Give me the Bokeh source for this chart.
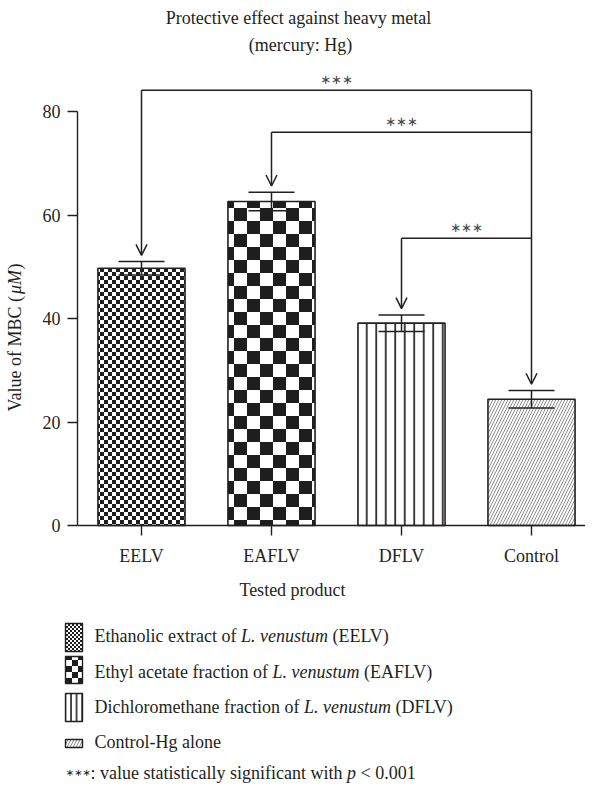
import zlib, struct, base64, math
from bokeh.plotting import figure
from bokeh.models import (Range1d, FixedTicker, Label, Arrow, OpenHead,
                          ImageURLTexture, ColumnDataSource)
from bokeh.embed import file_html
from bokeh.resources import INLINE
from bokeh.core.properties import value

# ---------------- data ----------------
categories = ["EELV", "EAFLV", "DFLV", "Control"]
mbc_mean = [49.7, 62.6, 39.1, 24.4]
mbc_err = [1.3, 1.8, 1.6, 1.7]
y_ticks = [0, 20, 40, 60, 80]
compared = ["EELV", "EAFLV", "DFLV"]
reference_group = "Control"
signif_label = "\u2217\u2217\u2217"
bracket_levels = [84.1, 76.0, 55.5]

title_lines = ["Protective effect against heavy metal", "(mercury: Hg)"]
x_title = "Tested product"
y_title = [("Value of MBC (", False), ("\u03bcM", True), (")", False)]
legend_rows = [
    [("Ethanolic extract of ", False), ("L. venustum", True), (" (EELV)", False)],
    [("Ethyl acetate fraction of ", False), ("L. venustum", True), (" (EAFLV)", False)],
    [("Dichloromethane fraction of ", False), ("L. venustum", True), (" (DFLV)", False)],
    [("Control-Hg alone", False)],
]
note_row = [(": value statistically significant with ", False), ("p", True), (" < 0.001", False)]

SERIF = "Liberation Serif"
INK = "#231f20"

# Times metrics (Liberation Serif is metric compatible)
REG = {" ": 250, "(": 333, ")": 333, "-": 333, ".": 250, ":": 278, "<": 564, "0": 500, "1": 500,
       "A": 722, "B": 667, "C": 667, "D": 722, "E": 611, "F": 556, "H": 722, "L": 611, "M": 889,
       "V": 722, "a": 444, "b": 500, "c": 444, "d": 500, "e": 444, "f": 333, "g": 500, "h": 500,
       "i": 278, "l": 278, "m": 778, "n": 500, "o": 500, "r": 333, "s": 389, "t": 278, "u": 500,
       "v": 500, "w": 722, "x": 500, "y": 500}
ITA = {" ": 250, "L": 556, ".": 250, "v": 444, "e": 444, "n": 500, "u": 500, "s": 389, "t": 278,
       "m": 722, "p": 500, "M": 833, "\u03bc": 520}


def tw(s, ital=False, size=18):
    tab = ITA if ital else REG
    return sum(tab.get(c, 500) for c in s) * size / 1000.0


# ---------------- textures ----------------
def png_url(w, h, fn):
    raw = b""
    for yy in range(h):
        row = bytearray([0])
        for xx in range(w):
            row += bytes(fn(xx, yy))
        raw += bytes(row)

    def chunk(t, d):
        return struct.pack(">I", len(d)) + t + d + struct.pack(">I", zlib.crc32(t + d) & 0xffffffff)

    png = (b"\x89PNG\r\n\x1a\n" + chunk(b"IHDR", struct.pack(">IIBBBBB", w, h, 8, 2, 0, 0, 0))
           + chunk(b"IDAT", zlib.compress(raw)) + chunk(b"IEND", b""))
    return "data:image/png;base64," + base64.b64encode(png).decode()


def checker(cell):
    dark = (0x1e, 0x1e, 0x1e)
    light = (255, 255, 255)
    url = png_url(2 * cell, 2 * cell,
                  lambda x, y: dark if ((x // cell) + (y // cell)) % 2 == 0 else light)
    return ImageURLTexture(url=url, repetition="repeat")


# ---------------- page geometry (layout only) ----------------
PXX = 130.0          # pixels per category
PXY = 414.0 / 80.0   # pixels per MBC unit
X0, Y0 = 149.0, 533.0  # page pixel of x=0 (first category) and y=0
W, H = 585, 785


def X(px):
    return (px - X0) / PXX


def Y(py):
    return (Y0 - py) / PXY


p = figure(width=W, height=H, x_range=Range1d(X(8), X(8 + W)), y_range=Range1d(Y(8 + H), Y(8)),
           output_backend="svg", toolbar_location=None, min_border=0)
p.xgrid.visible = False
p.ygrid.visible = False
p.outline_line_color = None

xs = list(range(len(categories)))

for ax in (p.xaxis[0], p.yaxis[0]):
    ax.axis_line_color = INK
    ax.axis_line_width = 1.4
    ax.major_tick_line_color = INK
    ax.major_tick_line_width = 1.4
    ax.major_tick_out = 10
    ax.major_tick_in = 0
    ax.minor_tick_out = 0
    ax.minor_tick_in = 0
    ax.major_label_text_font = SERIF
    ax.major_label_text_font_size = "18px"
    ax.major_label_text_color = INK

y_axis_x = X(85)
p.yaxis.fixed_location = y_axis_x
p.yaxis.bounds = (0, 80)
p.yaxis.ticker = FixedTicker(ticks=y_ticks)
p.yaxis.major_label_standoff = 7
p.xaxis.fixed_location = 0
p.xaxis.bounds = (y_axis_x, X(8 + W))
p.xaxis.ticker = FixedTicker(ticks=xs)
p.xaxis.major_label_overrides = {x: c for x, c in zip(xs, categories)}
p.xaxis.major_label_standoff = 10

tex_fine = checker(4)
tex_coarse = checker(13)
bar_src = ColumnDataSource(dict(
    x=xs, top=mbc_mean,
    pat=["fine", "coarse", "|", "/"],
    hscale=[8, 26, 9.5, 6],
    hcolor=[INK, INK, INK, "#707070"],
    hweight=[1, 1, 1.7, 0.8],
))
p.vbar(x="x", top="top", width=0.67, source=bar_src, fill_color="white",
       line_color=INK, line_width=1.6,
       hatch_pattern="pat", hatch_extra={"fine": tex_fine, "coarse": tex_coarse},
       hatch_scale="hscale", hatch_color="hcolor", hatch_weight="hweight")

# error bars
lo = [m - e for m, e in zip(mbc_mean, mbc_err)]
hi = [m + e for m, e in zip(mbc_mean, mbc_err)]
cap = 0.177
p.segment(x0=xs, y0=lo, x1=xs, y1=hi, line_color=INK, line_width=1.5)
p.segment(x0=[x - cap for x in xs], y0=hi, x1=[x + cap for x in xs], y1=hi, line_color=INK, line_width=1.5)
p.segment(x0=[x - cap for x in xs], y0=lo, x1=[x + cap for x in xs], y1=lo, line_color=INK, line_width=1.5)

# significance brackets
ci = categories.index(reference_group)
cx = xs[ci]
gap = 1.2
for name, level in zip(compared, bracket_levels):
    i = categories.index(name)
    tip = mbc_mean[i] + mbc_err[i] + gap
    p.segment(x0=[xs[i]], y0=[level], x1=[cx], y1=[level], line_color=INK, line_width=1.5)
    p.add_layout(Arrow(end=OpenHead(size=11, line_color=INK, line_width=1.5),
                       x_start=xs[i], y_start=level, x_end=xs[i], y_end=tip,
                       line_color=INK, line_width=1.5))
    p.add_layout(Label(x=(xs[i] + cx) / 2, y=level + 11 / PXY, text=signif_label,
                       text_font="DejaVu Sans", text_font_size="13px", text_color="#444444",
                       text_align="center", text_baseline="middle"))
p.add_layout(Arrow(end=OpenHead(size=11, line_color=INK, line_width=1.5),
                   x_start=cx, y_start=max(bracket_levels), x_end=cx,
                   y_end=mbc_mean[ci] + mbc_err[ci] + gap,
                   line_color=INK, line_width=1.5))

# titles
for line, (tx, ty) in zip(title_lines, [(306, 25), (308, 52)]):
    p.add_layout(Label(x=X(tx), y=Y(ty), text=line, text_font=SERIF,
                       text_font_size="18px", text_color=INK,
                       text_align="center", text_baseline="middle"))
p.add_layout(Label(x=X(300), y=Y(597), text=x_title, text_font=SERIF,
                   text_font_size="18px", text_color=INK,
                   text_align="center", text_baseline="middle"))
total = sum(tw(s, it) for s, it in y_title)
py = 345 + total / 2
for s, it in y_title:
    p.add_layout(Label(x=X(22), y=Y(py), text=s, text_font=SERIF, text_font_size="18px",
                       text_font_style="italic" if it else "normal", text_color=INK,
                       angle=math.pi / 2, text_align="left", text_baseline="middle"))
    py -= tw(s, it)

# ---------------- legend ----------------
sw_y = [645, 677.5, 715, 751]
sw_h = [28, 27, 28, 8]
sw_src = ColumnDataSource(dict(
    x=[X(81.5)] * 4, y=[Y(v) for v in sw_y], h=sw_h,
    pat=["fine", "coarse", "|", "/"], hscale=[4, 12, 5.6, 6],
    hcolor=[INK, INK, INK, "#707070"], hweight=[1, 1, 1.6, 0.8],
))
p.rect(x="x", y="y", width=17, height="h", width_units="screen", height_units="screen",
       source=sw_src, fill_color="white", line_color=INK, line_width=1.4,
       hatch_pattern="pat", hatch_extra={"fine": checker(2), "coarse": checker(6)},
       hatch_scale="hscale", hatch_color="hcolor", hatch_weight="hweight")

tx_r, ty_r, tt_r, tx_i, ty_i, tt_i = [], [], [], [], [], []


def place(segs, x_start, yy):
    xx = x_start
    for s, it in segs:
        lead = len(s) - len(s.lstrip(" "))
        xx += tw(" " * lead, it)
        body = s.lstrip(" ")
        (tx_i if it else tx_r).append(X(xx))
        (ty_i if it else ty_r).append(Y(yy))
        (tt_i if it else tt_r).append(body)
        xx += tw(body, it)


row_y = [643, 679, 714, 749]
for segs, yy in zip(legend_rows, row_y):
    place(segs, 102, yy)
note_y = 780
p.text(x=[X(73)], y=[Y(note_y)], text=[signif_label], text_font=value("DejaVu Sans"),
       text_font_size="10px", text_color=INK, text_baseline="middle", text_align="left")
place(note_row, 98, note_y)

p.text(x=tx_r, y=ty_r, text=tt_r, text_font=value(SERIF), text_font_size="18px",
       text_color=INK, text_baseline="middle", text_align="left")
p.text(x=tx_i, y=ty_i, text=tt_i, text_font=value(SERIF), text_font_size="18px",
       text_font_style="italic", text_color=INK, text_baseline="middle", text_align="left")

open("out.html", "w").write(file_html(p, INLINE))
